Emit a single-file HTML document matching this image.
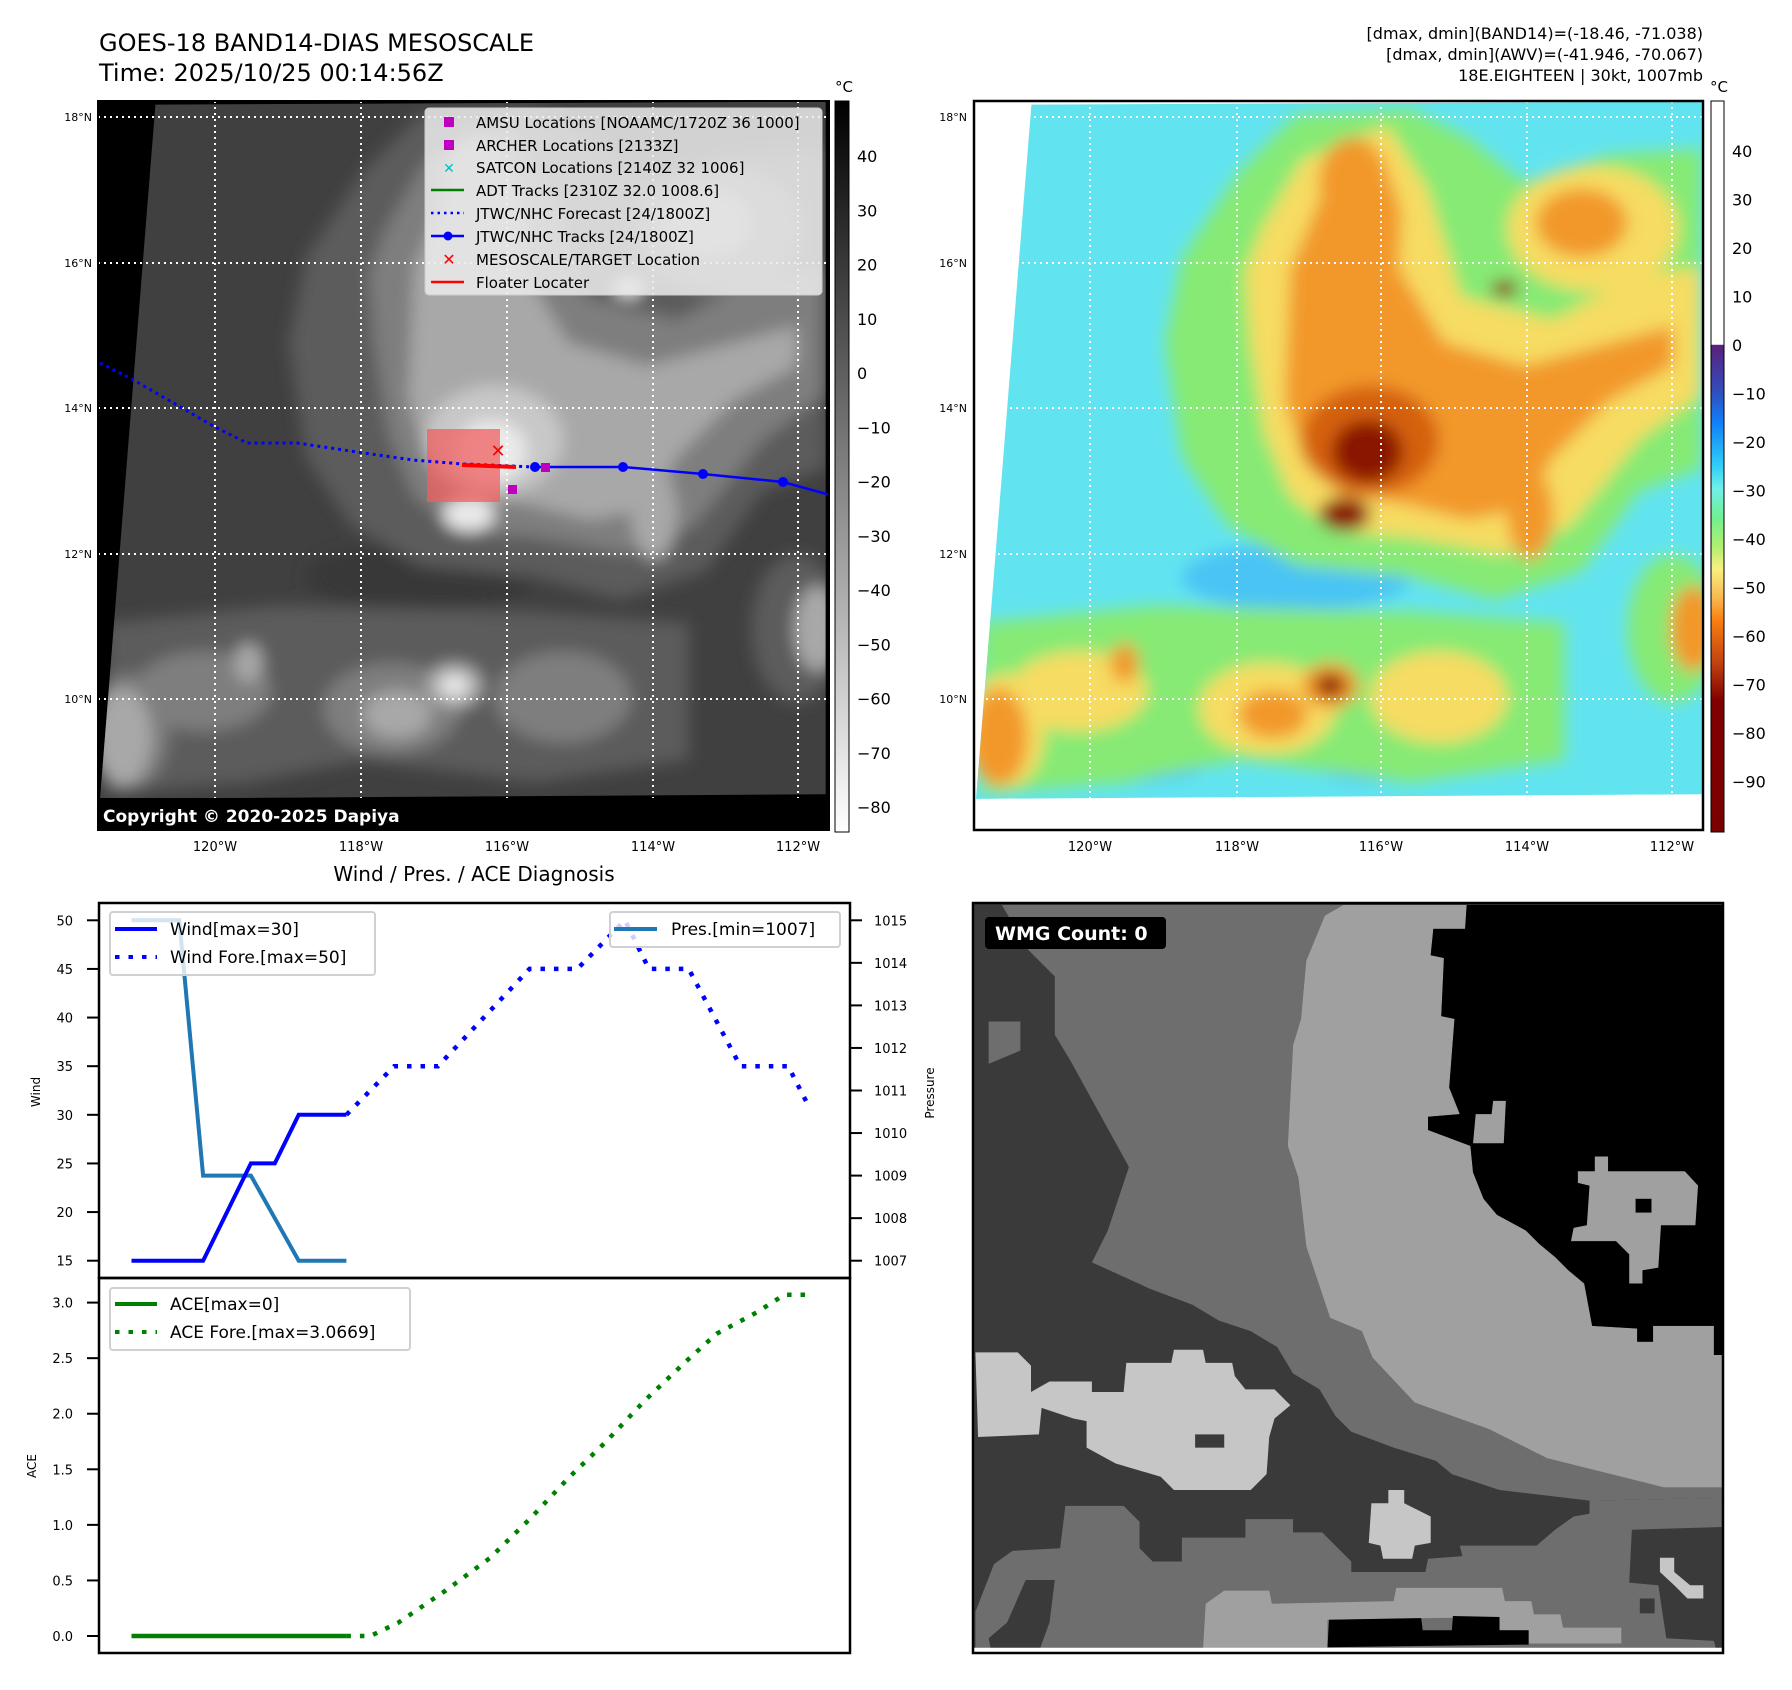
<!DOCTYPE html>
<html><head><meta charset="utf-8">
<style>
html,body{margin:0;padding:0;background:#fff;}
svg{display:block;font-family:"DejaVu Sans","Liberation Sans",sans-serif;}
</style></head>
<body>
<svg id="page" width="1792" height="1690" viewBox="0 0 1792 1690" xmlns="http://www.w3.org/2000/svg">
<defs>
  <filter id="blur" x="-20%" y="-20%" width="140%" height="140%"><feGaussianBlur stdDeviation="14"/></filter>
  <clipPath id="clipMap1"><rect x="98" y="101" width="731" height="729"/></clipPath>
  <clipPath id="clipMap2"><rect x="974" y="101" width="729" height="729"/></clipPath>
  <clipPath id="clipWmg"><rect x="973" y="903" width="750" height="750"/></clipPath>
  <linearGradient id="cbGray" x1="0" y1="0" x2="0" y2="1">
    <stop offset="0" stop-color="#000"/><stop offset="1" stop-color="#fff"/>
  </linearGradient>
  <linearGradient id="cbColor" x1="0" y1="0" x2="0" y2="1">
    <stop offset="0" stop-color="#fff"/><stop offset="0.333" stop-color="#fff"/>
    <stop offset="0.334" stop-color="#5a1f7a"/>
    <stop offset="0.40" stop-color="#3050c0"/>
    <stop offset="0.44" stop-color="#1080f8"/>
    <stop offset="0.50" stop-color="#30d0f8"/>
    <stop offset="0.53" stop-color="#70f0e8"/>
    <stop offset="0.57" stop-color="#70f090"/>
    <stop offset="0.61" stop-color="#b0f070"/>
    <stop offset="0.64" stop-color="#f8f080"/>
    <stop offset="0.68" stop-color="#f8b850"/>
    <stop offset="0.71" stop-color="#f88010"/>
    <stop offset="0.77" stop-color="#c04010"/>
    <stop offset="0.82" stop-color="#800000"/>
    <stop offset="1" stop-color="#7a0000"/>
  </linearGradient>
</defs>

<text x="99" y="51" font-size="24">GOES-18 BAND14-DIAS MESOSCALE</text>
<text x="99" y="81" font-size="24">Time: 2025/10/25 00:14:56Z</text>
<g font-size="16" text-anchor="end">
  <text x="1703" y="39">[dmax, dmin](BAND14)=(-18.46, -71.038)</text>
  <text x="1703" y="60">[dmax, dmin](AWV)=(-41.946, -70.067)</text>
  <text x="1703" y="81">18E.EIGHTEEN | 30kt, 1007mb</text>
</g>

<g clip-path="url(#clipMap1)">
  <rect x="98" y="101" width="731" height="729" fill="#000"/>
  <g id="map1clouds" transform="translate(20,0) scale(0.5714)"></g>
</g>
<g stroke="#fff" stroke-width="2" stroke-dasharray="2 4" clip-path="url(#clipMap1)">
  <line x1="215" y1="101" x2="215" y2="830"/><line x1="361" y1="101" x2="361" y2="830"/>
  <line x1="507" y1="101" x2="507" y2="830"/><line x1="653" y1="101" x2="653" y2="830"/>
  <line x1="798" y1="101" x2="798" y2="830"/>
  <line x1="98" y1="117" x2="829" y2="117"/><line x1="98" y1="263" x2="829" y2="263"/>
  <line x1="98" y1="408" x2="829" y2="408"/><line x1="98" y1="554" x2="829" y2="554"/>
  <line x1="98" y1="699" x2="829" y2="699"/>
</g>
<g clip-path="url(#clipMap1)">
  <rect x="427" y="429" width="73" height="73" fill="#f06060" opacity="0.75"/>
  <polyline points="100,363 130,378 215,427 247,443 297,443 357,452 413,460 463,464 535,467" fill="none" stroke="#0000ff" stroke-width="3" stroke-dasharray="3 4"/>
  <polyline points="535,467 623,467 703,474 783,482 830,495" fill="none" stroke="#0000ff" stroke-width="2.5"/>
  <circle cx="535" cy="467" r="5" fill="#0000ff"/><circle cx="623" cy="467" r="5" fill="#0000ff"/>
  <circle cx="703" cy="474" r="5" fill="#0000ff"/><circle cx="783" cy="482" r="5" fill="#0000ff"/>
  <line x1="462" y1="465" x2="516" y2="467" stroke="#ff0000" stroke-width="4"/>
  <rect x="541" y="463" width="9" height="9" fill="#c000c0"/>
  <rect x="508" y="485" width="9" height="9" fill="#c000c0"/>
  <text x="498" y="457" font-size="18" font-weight="bold" fill="#ff0000" text-anchor="middle">✕</text>
</g>
<rect x="98" y="798" width="731" height="32" fill="#000"/>
<text x="103" y="822" font-size="17" font-weight="bold" fill="#fff">Copyright © 2020-2025 Dapiya</text>
<rect x="98" y="101" width="731" height="729" fill="none" stroke="#000" stroke-width="2"/>
<g>
  <rect x="425" y="108" width="397" height="187" rx="4" fill="#ececec" fill-opacity="0.85" stroke="#ccc"/>
  <g font-size="15">
    <rect x="444" y="117" width="10" height="10" fill="#c000c0"/>
    <text x="476" y="128">AMSU Locations [NOAAMC/1720Z 36 1000]</text>
    <rect x="444" y="140" width="10" height="10" fill="#c000c0"/>
    <text x="476" y="151">ARCHER Locations [2133Z]</text>
    <text x="449" y="173" fill="#00c0c0" font-weight="bold" text-anchor="middle" font-size="14">✕</text>
    <text x="476" y="173">SATCON Locations [2140Z 32 1006]</text>
    <line x1="431" y1="190" x2="464" y2="190" stroke="#008000" stroke-width="2.5"/>
    <text x="476" y="196">ADT Tracks [2310Z 32.0 1008.6]</text>
    <line x1="431" y1="213" x2="464" y2="213" stroke="#0000ff" stroke-width="2.5" stroke-dasharray="2.5 4"/>
    <text x="476" y="219">JTWC/NHC Forecast [24/1800Z]</text>
    <line x1="431" y1="236" x2="464" y2="236" stroke="#0000ff" stroke-width="2.5"/><circle cx="448" cy="236" r="4.5" fill="#0000ff"/>
    <text x="476" y="242">JTWC/NHC Tracks [24/1800Z]</text>
    <text x="449" y="265" fill="#ff0000" font-weight="bold" text-anchor="middle" font-size="16">✕</text>
    <text x="476" y="265">MESOSCALE/TARGET Location</text>
    <line x1="431" y1="282" x2="464" y2="282" stroke="#ff0000" stroke-width="2.5"/>
    <text x="476" y="288">Floater Locater</text>
  </g>
</g>
<g font-size="11" text-anchor="end">
  <text x="92" y="121">18°N</text><text x="92" y="267">16°N</text><text x="92" y="412">14°N</text>
  <text x="92" y="558">12°N</text><text x="92" y="703">10°N</text>
</g>
<g font-size="13" text-anchor="middle">
  <text x="215" y="851">120°W</text><text x="361" y="851">118°W</text><text x="507" y="851">116°W</text>
  <text x="653" y="851">114°W</text><text x="798" y="851">112°W</text>
</g>
<g>
  <rect x="835" y="101" width="14" height="731" fill="url(#cbGray)" stroke="#000" stroke-width="1"/>
  <text x="844" y="92" font-size="15" text-anchor="middle">°C</text>
  <g font-size="16" id="cb1labels"></g>
</g>

<g clip-path="url(#clipMap2)">
  <rect x="974" y="101" width="729" height="729" fill="#fff"/>
  <g id="map2clouds" transform="translate(896,0) scale(0.5714)"></g>
</g>
<g stroke="#fff" stroke-width="2" stroke-dasharray="2 4" clip-path="url(#clipMap2)">
  <line x1="1090" y1="101" x2="1090" y2="800"/><line x1="1237" y1="101" x2="1237" y2="800"/>
  <line x1="1381" y1="101" x2="1381" y2="800"/><line x1="1527" y1="101" x2="1527" y2="800"/>
  <line x1="1672" y1="101" x2="1672" y2="800"/>
  <line x1="974" y1="117" x2="1703" y2="117"/><line x1="974" y1="263" x2="1703" y2="263"/>
  <line x1="974" y1="408" x2="1703" y2="408"/><line x1="974" y1="554" x2="1703" y2="554"/>
  <line x1="974" y1="699" x2="1703" y2="699"/>
</g>
<rect x="974" y="101" width="729" height="729" fill="none" stroke="#000" stroke-width="2.5"/>
<g font-size="11" text-anchor="end">
  <text x="967" y="121">18°N</text><text x="967" y="267">16°N</text><text x="967" y="412">14°N</text>
  <text x="967" y="558">12°N</text><text x="967" y="703">10°N</text>
</g>
<g font-size="13" text-anchor="middle">
  <text x="1090" y="851">120°W</text><text x="1237" y="851">118°W</text><text x="1381" y="851">116°W</text>
  <text x="1527" y="851">114°W</text><text x="1672" y="851">112°W</text>
</g>
<g>
  <rect x="1711" y="101" width="13" height="731" fill="url(#cbColor)" stroke="#000" stroke-width="1"/>
  <text x="1719" y="92" font-size="15" text-anchor="middle">°C</text>
  <g font-size="16" id="cb2labels"></g>
</g>

<text x="474" y="881" font-size="20" text-anchor="middle">Wind / Pres. / ACE Diagnosis</text>
<g id="windChart"></g>
<g id="aceChart"></g>
<rect x="99" y="903" width="751" height="375" fill="none" stroke="#000" stroke-width="2.5"/>
<rect x="99" y="1278" width="751" height="375" fill="none" stroke="#000" stroke-width="2.5"/>
<text transform="translate(40,1092) rotate(-90)" font-size="12" text-anchor="middle">Wind</text>
<text transform="translate(934,1093) rotate(-90)" font-size="12" text-anchor="middle">Pressure</text>
<text transform="translate(36,1466) rotate(-90)" font-size="12" text-anchor="middle">ACE</text>
<g font-size="17">
  <rect x="110" y="912" width="265" height="63" rx="3" fill="#fff" fill-opacity="0.8" stroke="#d0d0d0" stroke-width="2"/>
  <line x1="115" y1="929" x2="157" y2="929" stroke="#0000ff" stroke-width="4"/>
  <text x="170" y="935">Wind[max=30]</text>
  <line x1="115" y1="957" x2="157" y2="957" stroke="#0000ff" stroke-width="4" stroke-dasharray="4.5 9"/>
  <text x="170" y="963">Wind Fore.[max=50]</text>
</g>
<g font-size="17">
  <rect x="610" y="912" width="230" height="35" rx="3" fill="#fff" fill-opacity="0.8" stroke="#d0d0d0" stroke-width="2"/>
  <line x1="614" y1="929" x2="657" y2="929" stroke="#1f77b4" stroke-width="4"/>
  <text x="671" y="935">Pres.[min=1007]</text>
</g>
<g font-size="17">
  <rect x="110" y="1288" width="300" height="62" rx="3" fill="#fff" fill-opacity="0.8" stroke="#d0d0d0" stroke-width="2"/>
  <line x1="115" y1="1304" x2="157" y2="1304" stroke="#008000" stroke-width="4"/>
  <text x="170" y="1310">ACE[max=0]</text>
  <line x1="115" y1="1332" x2="157" y2="1332" stroke="#008000" stroke-width="4" stroke-dasharray="4.5 9"/>
  <text x="170" y="1338">ACE Fore.[max=3.0669]</text>
</g>

<g clip-path="url(#clipWmg)">
  <g transform="translate(896,860) scale(0.5294)">
    <rect x="146" y="81" width="1417" height="1417" fill="#3a3a3a"/>
    <polygon fill="#6e6e6e" points="200,85 845,85 810,105 775,190 765,300 750,350 740,540 760,600 775,730 820,865 880,890 900,940 980,1025 1120,1075 1230,1130 1450,1185 1563,1185 1563,1205 1310,1210 1140,1190 1050,1160 1020,1135 940,1110 860,1080 830,1050 800,1000 750,970 720,920 670,890 610,870 560,840 480,810 370,760 400,700 440,580 330,380 300,330 300,220 250,170"/>
    <polygon fill="#6e6e6e" points="175,305 235,305 235,360 175,385"/>
    <polygon fill="#a0a0a0" points="845,85 1078,85 1075,130 1015,130 1010,180 1035,185 1030,295 1055,300 1045,430 1065,480 1005,485 1005,510 1085,540 1090,590 1110,640 1135,670 1190,700 1215,725 1245,750 1270,775 1300,800 1315,880 1400,885 1400,910 1430,910 1430,880 1545,880 1545,935 1563,935 1563,1185 1450,1185 1230,1130 1120,1075 980,1025 900,940 880,890 820,865 775,730 760,600 740,540 750,350 765,300 775,190 810,105"/>
    <polygon fill="#000" points="1078,85 1563,85 1563,935 1545,935 1545,880 1430,880 1430,910 1400,910 1400,885 1315,880 1300,800 1270,775 1245,750 1215,725 1190,700 1135,670 1110,640 1090,590 1085,540 1005,510 1005,485 1065,480 1045,430 1055,300 1030,295 1035,185 1010,180 1015,130 1075,130"/>
    <polygon fill="#a0a0a0" points="1095,480 1125,480 1128,455 1152,455 1148,535 1090,535"/>
    <polygon fill="#a0a0a0" points="1320,560 1345,560 1345,588 1490,588 1515,615 1510,690 1445,690 1440,770 1410,775 1410,800 1385,800 1385,745 1360,720 1275,720 1280,695 1305,690 1310,615 1288,610 1288,588 1320,588"/>
    <rect x="1397" y="640" width="30" height="26" fill="#000"/>
    <polygon fill="#c6c6c6" points="150,930 230,930 255,955 255,1005 290,985 370,985 370,1005 430,1005 435,950 520,950 525,925 580,925 585,950 635,950 640,975 660,1000 715,1000 745,1030 715,1055 705,1090 700,1160 670,1190 525,1190 500,1165 415,1140 360,1110 360,1060 335,1055 275,1035 270,1085 155,1090"/>
    <rect x="565" y="1085" width="55" height="25" fill="#3a3a3a"/>
    <polygon fill="#c6c6c6" points="930,1190 960,1190 960,1215 1010,1240 1010,1290 980,1295 975,1320 920,1320 915,1295 893,1290 898,1215 930,1215"/>
    <polygon fill="#6e6e6e" points="150,1420 185,1330 220,1305 310,1300 320,1220 430,1220 460,1250 460,1300 485,1325 540,1325 540,1280 660,1280 660,1245 750,1245 750,1270 805,1270 860,1325 860,1345 1000,1345 1005,1320 1070,1315 1065,1295 1210,1295 1245,1265 1280,1240 1310,1235 1310,1210 1563,1205 1563,1260 1390,1265 1385,1365 1440,1370 1455,1470 1545,1475 1550,1495 150,1495"/>
    <polygon fill="#3a3a3a" points="245,1360 300,1360 290,1440 270,1495 180,1495 175,1470 210,1440"/>
    <polygon fill="#a0a0a0" points="585,1405 620,1380 705,1380 710,1405 940,1400 945,1375 1145,1375 1150,1400 1200,1400 1205,1425 1255,1425 1260,1450 1370,1450 1370,1480 1195,1480 1195,1455 1140,1455 1140,1430 815,1435 815,1490 580,1490"/>
    <polygon fill="#000" points="818,1435 992,1432 995,1455 1050,1455 1052,1428 1140,1430 1140,1455 1195,1455 1195,1482 815,1487"/>
    <polygon fill="#c6c6c6" points="1443,1318 1470,1318 1470,1345 1500,1370 1525,1370 1525,1395 1495,1395 1470,1370 1443,1345"/>
    <rect x="1405" y="1395" width="28" height="28" fill="#3a3a3a"/>
    <rect x="146" y="1488" width="1417" height="12" fill="#fff"/>
  </g>
  <rect x="985" y="917" width="181" height="32" rx="4" fill="#000"/>
  <text x="995" y="940" font-size="19" font-weight="bold" fill="#fff">WMG Count: 0</text>
</g>
<rect x="973" y="903" width="750" height="750" fill="none" stroke="#000" stroke-width="2.5"/>
</svg>

<script>
const obsHours = [0, 6, 12, 18, 24, 30, 36, 42, 48, 54];
const windObs = [15, 15, 15, 15, 20, 25, 25, 30, 30, 30];
const presObs = [1015, 1015, 1015, 1009, 1009, 1009, 1008, 1007, 1007, 1007];
const fcstHours = [54, 66, 77, 100, 112, 124, 130, 140, 153, 165, 170];
const windFcst = [30, 35, 35, 45, 45, 50, 45, 45, 35, 35, 31];
const aceObs = [0, 0, 0, 0, 0, 0, 0, 0, 0, 0];
const aceFcstHours = [54, 60, 67, 79, 90, 100, 110, 119, 129, 139, 147, 157, 164, 171];
const aceFcst = [0, 0, 0.12, 0.41, 0.70, 1.05, 1.43, 1.74, 2.12, 2.46, 2.72, 2.91, 3.07, 3.07];
const windTicks = [15, 20, 25, 30, 35, 40, 45, 50];
const presTicks = [1007, 1008, 1009, 1010, 1011, 1012, 1013, 1014, 1015];
const aceTicks = [0, 0.5, 1.0, 1.5, 2.0, 2.5, 3.0];
const aceTickLabels = ['0.0', '0.5', '1.0', '1.5', '2.0', '2.5', '3.0'];
const cb1Ticks = [40, 30, 20, 10, 0, -10, -20, -30, -40, -50, -60, -70, -80];
const cb2Ticks = [40, 30, 20, 10, 0, -10, -20, -30, -40, -50, -60, -70, -80, -90];

const NS = 'http://www.w3.org/2000/svg';
function xS(h) { return 131.5 + h * 3.98; }
function yWind(w) { return 1260.7 - (w - 15) * (340.4 / 35); }
function yPres(p) { return 1260.7 - (p - 1007) * (340.4 / 8); }
function yAce(a) { return 1636 - a * (333.4 / 3); }
function cb1Y(v) { return 156 + (40 - v) * 5.425; }
function cb2Y(v) { return 151 + (40 - v) * 4.85; }
function mk(tag, parent) { const e = document.createElementNS(NS, tag); parent.appendChild(e); return e; }
function pts(xs, ys, fy) { return xs.map((h, i) => xS(h).toFixed(1) + ',' + fy(ys[i]).toFixed(1)).join(' '); }

const wc = document.getElementById('windChart');
const ac = document.getElementById('aceChart');

windTicks.forEach(t => {
  const l = mk('line', wc);
  
  
  l.setAttribute('x1', 87); l.setAttribute('x2', 99);
  l.setAttribute('y1', yWind(t)); l.setAttribute('y2', yWind(t));
  l.setAttribute('stroke', '#000'); l.setAttribute('stroke-width', 2);
  const tx = mk('text', wc);
  
  
  tx.setAttribute('x', 73); tx.setAttribute('y', yWind(t) + 5);
  tx.setAttribute('font-size', 13); tx.setAttribute('text-anchor', 'end');
  tx.textContent = t;
});
presTicks.forEach(t => {
  const l = mk('line', wc);
  
  
  l.setAttribute('x1', 850); l.setAttribute('x2', 862);
  l.setAttribute('y1', yPres(t)); l.setAttribute('y2', yPres(t));
  l.setAttribute('stroke', '#000'); l.setAttribute('stroke-width', 2);
  const tx = mk('text', wc);
  
  
  tx.setAttribute('x', 874); tx.setAttribute('y', yPres(t) + 5);
  tx.setAttribute('font-size', 13);
  tx.textContent = t;
});
aceTicks.forEach((t, i) => {
  const l = mk('line', ac);
  
  
  l.setAttribute('x1', 87); l.setAttribute('x2', 99);
  l.setAttribute('y1', yAce(t)); l.setAttribute('y2', yAce(t));
  l.setAttribute('stroke', '#000'); l.setAttribute('stroke-width', 2);
  const tx = mk('text', ac);
  
  
  tx.setAttribute('x', 73); tx.setAttribute('y', yAce(t) + 5);
  tx.setAttribute('font-size', 13); tx.setAttribute('text-anchor', 'end');
  tx.textContent = aceTickLabels[i];
});

const pObs = mk('polyline', wc);


pObs.setAttribute('points', pts(obsHours, presObs, yPres));
pObs.setAttribute('fill', 'none'); pObs.setAttribute('stroke', '#1f77b4'); pObs.setAttribute('stroke-width', 4);

const wObs = mk('polyline', wc);


wObs.setAttribute('points', pts(obsHours, windObs, yWind));
wObs.setAttribute('fill', 'none'); wObs.setAttribute('stroke', '#0000ff'); wObs.setAttribute('stroke-width', 4);

const wF = mk('polyline', wc);


wF.setAttribute('points', pts(fcstHours, windFcst, yWind));
wF.setAttribute('fill', 'none'); wF.setAttribute('stroke', '#0000ff'); wF.setAttribute('stroke-width', 4.5);
wF.setAttribute('stroke-dasharray', '4.5 9');

const aO = mk('polyline', ac);


aO.setAttribute('points', pts(obsHours, aceObs, yAce));
aO.setAttribute('fill', 'none'); aO.setAttribute('stroke', '#008000'); aO.setAttribute('stroke-width', 4.5);

const aF = mk('polyline', ac);


aF.setAttribute('points', pts(aceFcstHours, aceFcst, yAce));
aF.setAttribute('fill', 'none'); aF.setAttribute('stroke', '#008000'); aF.setAttribute('stroke-width', 4.5);
aF.setAttribute('stroke-dasharray', '4.5 9');

const c1 = document.getElementById('cb1labels');
cb1Ticks.forEach(t => {
  const tx = mk('text', c1);
  
  
  tx.setAttribute('x', 857); tx.setAttribute('y', cb1Y(t) + 6);
  tx.textContent = t < 0 ? '\u2212' + (-t) : String(t);
});
const c2 = document.getElementById('cb2labels');
cb2Ticks.forEach(t => {
  const tx = mk('text', c2);
  
  
  tx.setAttribute('x', 1732); tx.setAttribute('y', cb2Y(t) + 6);
  tx.textContent = t < 0 ? '\u2212' + (-t) : String(t);
});

const dataArea = '237,183 1410,178 1410,1390 140,1398';
const clouds = [
  ['blue', 'e', 700, 1010, 200, 60], ['blue', 'e', 830, 1320, 110, 50], ['blue', 'e', 420, 1330, 130, 40],
  ['green', 'p', '600,300 700,200 900,190 1000,240 1100,320 1250,270 1410,260 1410,820 1300,860 1200,1000 1050,1050 900,1010 700,990 580,920 500,800 470,600 500,450'],
  ['green', 'p', '150,1090 450,1060 900,1070 1170,1090 1170,1330 900,1370 600,1330 400,1370 150,1390'],
  ['green', 'e', 1360, 1100, 80, 130],
  ['yellow', 'p', '640,400 710,280 860,220 930,330 990,520 1150,560 1300,480 1410,470 1410,690 1300,770 1180,920 1060,970 900,940 770,930 690,870 645,760 620,600 610,480'],
  ['yellow', 'e', 1220, 400, 150, 110],
  ['yellow', 'e', 320, 1210, 120, 70], ['yellow', 'e', 650, 1240, 120, 80], ['yellow', 'e', 950, 1220, 120, 80],
  ['yellow', 'e', 190, 1280, 70, 100],
  ['orange', 'p', '690,470 745,340 850,270 885,370 880,470 960,600 1100,640 1250,600 1360,570 1360,640 1250,700 1150,800 1100,890 1000,910 880,880 780,865 715,810 680,700'],
  ['orange', 'e', 1200, 390, 80, 60], ['orange', 'e', 800, 320, 60, 80],
  ['orange', 'e', 180, 1290, 50, 85], ['orange', 'e', 660, 1250, 60, 42], ['orange', 'e', 760, 1200, 50, 40],
  ['orange', 'e', 400, 1160, 25, 35], ['orange', 'e', 1395, 1100, 40, 75], ['orange', 'e', 1110, 900, 40, 80],
  ['dorange', 'e', 830, 770, 120, 95],
  ['dark', 'e', 825, 790, 62, 55], ['dark', 'e', 785, 900, 45, 30], ['dark', 'e', 1065, 505, 24, 14],
  ['dark', 'e', 760, 1200, 26, 20]
];
const pal2 = { base: '#62e4f0', blue: '#48c4f4', green: '#86ea74', yellow: '#f6dc62', orange: '#f2982c', dorange: '#d4600e', dark: '#8a1400' };
const pal1 = { base: '#404040', blue: '#383838', green: '#5c5c5c', yellow: '#7e7e7e', orange: '#a8a8a8', dorange: '#c8c8c8', dark: '#eaeaea' };
function drawClouds(g, pal, prefix) {
  const base = mk('polygon', g);
  
  
  base.setAttribute('points', dataArea);
  base.setAttribute('fill', pal.base);
  const inner = mk('g', g);
  
  
  inner.setAttribute('filter', 'url(#blur)');
  clouds.forEach(c => {
    let e;
    if (c[1] === 'e') {
      e = mk('ellipse', inner);
      e.setAttribute('cx', c[2]); e.setAttribute('cy', c[3]); e.setAttribute('rx', c[4]); e.setAttribute('ry', c[5]);
    } else {
      e = mk('polygon', inner);
      e.setAttribute('points', c[2]);
    }
    
    
    e.setAttribute('fill', pal[c[0]]);
  });
  const clipP = document.createElementNS(NS, 'clipPath');
  clipP.setAttribute('id', prefix + 'DA');
  const cp = mk('polygon', clipP); cp.setAttribute('points', dataArea);
  document.querySelector('defs').appendChild(clipP);
  inner.setAttribute('clip-path', 'url(#' + prefix + 'DA)');
}
drawClouds(document.getElementById('map1clouds'), pal1, 'ir');
drawClouds(document.getElementById('map2clouds'), pal2, 'awv');
</script>
</body></html>
